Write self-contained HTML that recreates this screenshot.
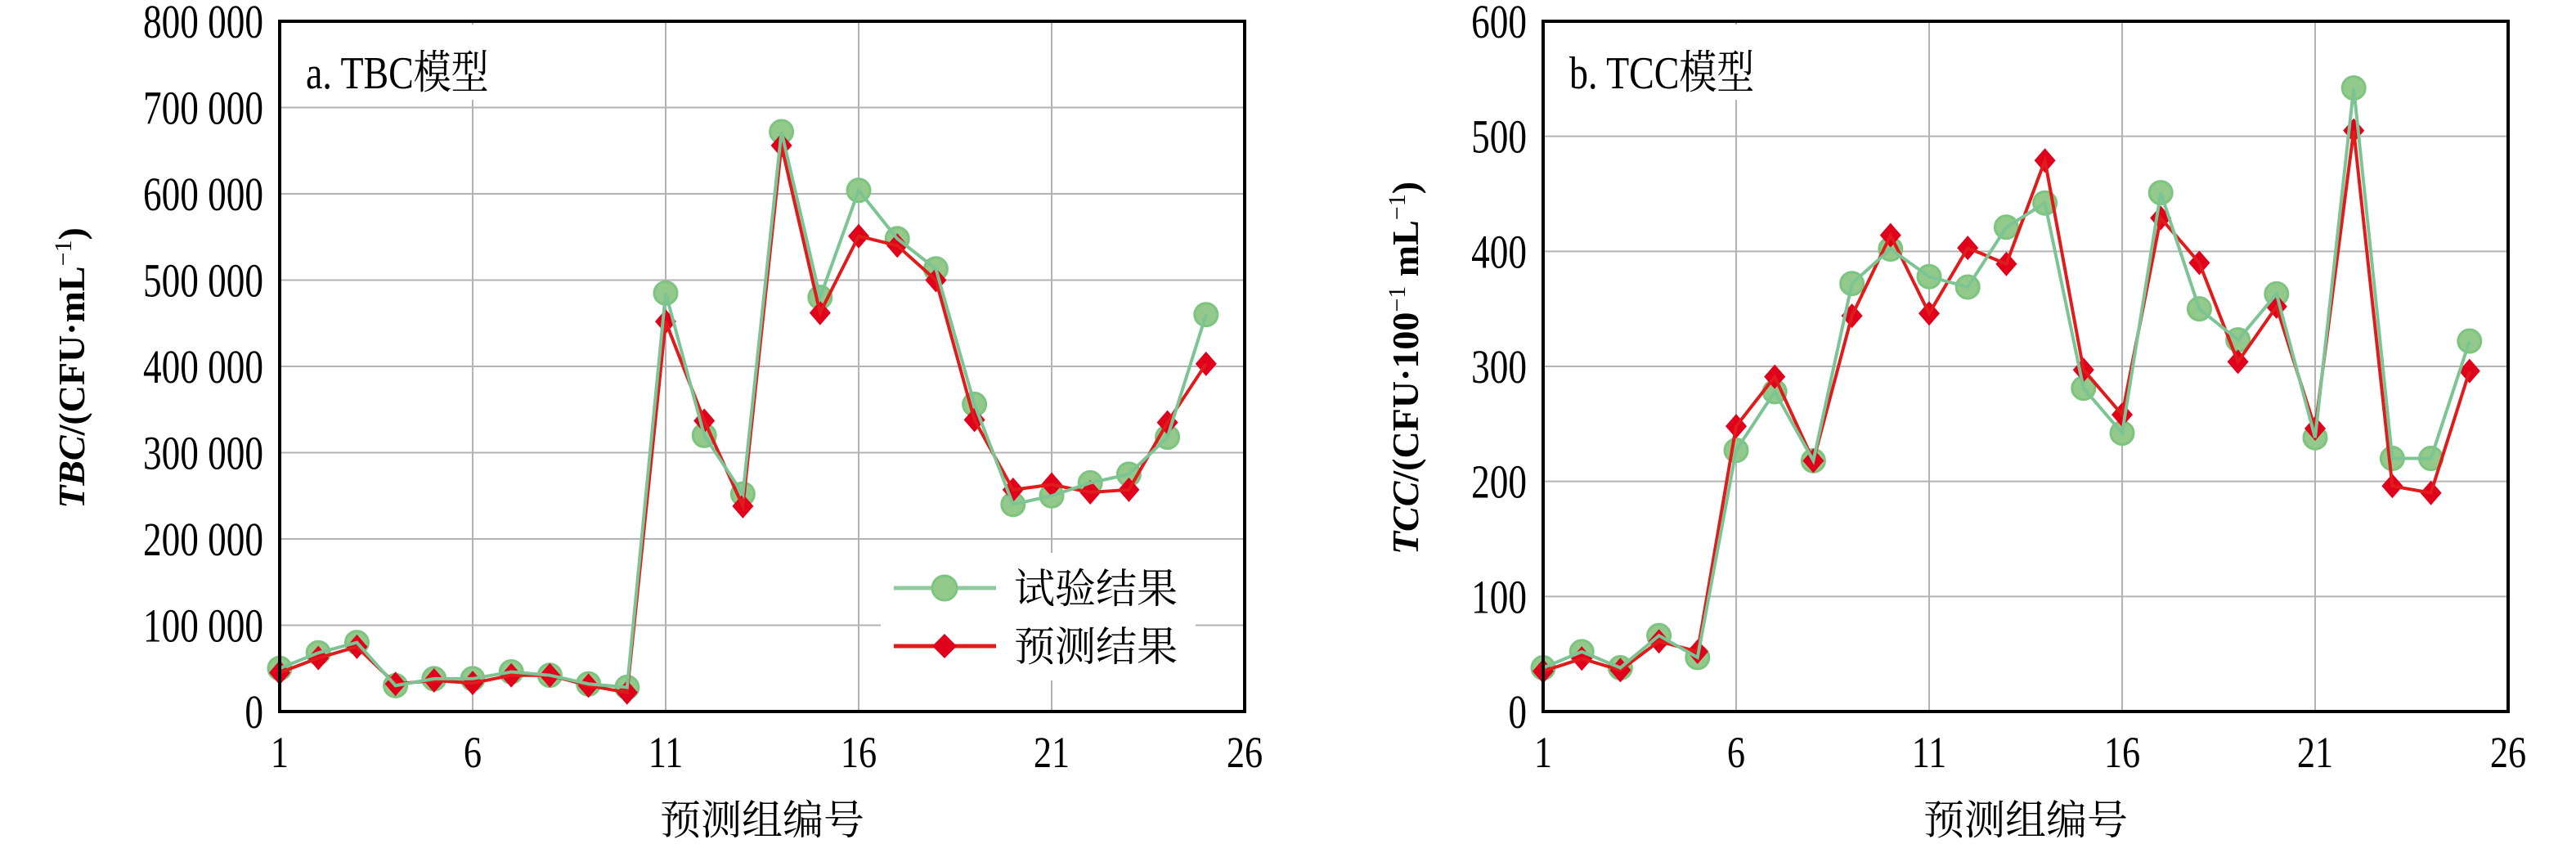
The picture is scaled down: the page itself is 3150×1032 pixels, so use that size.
<!DOCTYPE html>
<html><head><meta charset="utf-8">
<style>
html,body{margin:0;padding:0;background:#fff;}
svg{display:block;}
</style></head>
<body>
<svg id="s" width="3150" height="1032" xmlns="http://www.w3.org/2000/svg" font-family="'Liberation Serif','Noto Serif CJK SC',serif"></svg>
<script>
const S=document.getElementById('s');let h='';
const F=`font-family="'Liberation Serif','Noto Serif CJK SC',serif"`;
function t(x,y,size,anchor,c,sx,extra){return `<text ${F} transform="translate(${x},${y}) scale(${sx},1)" font-size="${size}" text-anchor="${anchor}" fill="#000" ${extra||''}>${c}</text>`;}
function panel(o){
 const L=o.L,R=L+1180,T=26,B=870;
 const X=i=>L+(i-1)*(R-L)/25, Y=v=>B-v*(B-T)/o.max;
 for(let i=6;i<26;i+=5)h+=`<line x1="${X(i)}" y1="${T}" x2="${X(i)}" y2="${B}" stroke="#b3b3b3" stroke-width="2"/>`;
 for(let v=o.step;v<o.max;v+=o.step)h+=`<line x1="${L}" y1="${Y(v)}" x2="${R}" y2="${Y(v)}" stroke="#b3b3b3" stroke-width="2"/>`;
 h+=`<rect x="${L+8}" y="${T+4}" width="${o.lw}" height="92" fill="#fff"/>`;
 h+=t(L+32,T+82,56,'start',o.title,0.82);
 if(o.legend){h+=`<rect x="1077" y="676" width="385" height="156" fill="#fff"/>`;
  h+=`<line x1="1093" y1="719" x2="1218" y2="719" stroke="#8fc9a0" stroke-width="5"/><circle cx="1155" cy="719" r="15" fill="#93c98a" stroke="#7cc47f" stroke-width="3"/>`;
  h+=t(1240,737,50,'start','试验结果',1);
  h+=`<line x1="1093" y1="790" x2="1218" y2="790" stroke="#e01b1b" stroke-width="5"/><path d="M1155 775 L1170 790 L1155 805 L1140 790Z" fill="#e0001c"/>`;
  h+=t(1240,808,50,'start','预测结果',1);}
 const gp=o.g.map((v,i)=>X(i+1)+','+Y(v)).join(' '), rp=o.r.map((v,i)=>X(i+1)+','+Y(v)).join(' ');
 let gm='',rm='';
 o.g.forEach((v,i)=>gm+=`<circle cx="${X(i+1)}" cy="${Y(v)}" r="14" fill="#93c98a" stroke="#7cc47f" stroke-width="3"/>`);
 o.r.forEach((v,i)=>{const x=X(i+1),y=Y(v);rm+=`<path d="M${x} ${y-15} L${x+13} ${y} L${x} ${y+15} L${x-13} ${y}Z" fill="#e0001c"/>`;});
 h+=gm+rm;
 h+=`<polyline points="${rp}" fill="none" stroke="#e01b1b" stroke-width="4"/>`;
 h+=`<polyline points="${gp}" fill="none" stroke="#7cc494" stroke-width="4"/>`;
 h+=`<rect x="${L}" y="${T}" width="${R-L}" height="${B-T}" fill="none" stroke="#000" stroke-width="4"/>`;
 for(let v=0;v<=o.max;v+=o.step)h+=t(L-20,Y(v)+20,58,'end',o.fmt(v),0.78);
 for(let i=1;i<=26;i+=5)h+=t(X(i),B+68,54,'middle',''+i,0.82);
 h+=t((L+R)/2,B+150,50,'middle','预测组编号',1);
 h+=`<text ${F} transform="translate(${o.yx},450) rotate(-90)" font-size="46" font-weight="bold" text-anchor="middle" fill="#000">${o.ylab}</text>`;
}
panel({L:342,max:800000,step:100000,lw:275,title:'a. TBC模型',legend:true,yx:103,
 fmt:v=>v==0?'0':(v/1000)+' 000',
 ylab:'<tspan font-style="italic">TBC</tspan>/(CFU·mL<tspan dy="-16" font-size="30" font-weight="normal">−1</tspan><tspan dy="16">)</tspan>',
 g:[50,68,80,30,38,38,46,42,32,28,485,320,252,672,480,604,548,513,356,240,250,265,275,318,460].map(v=>v*1000),
 r:[45,62,75,32,36,33,42,42,30,22,452,337,238,656,462,551,540,500,338,257,263,254,257,335,403].map(v=>v*1000)});
panel({L:1887,max:600,step:100,lw:265,title:'b. TCC模型',legend:false,yx:1734,
 fmt:v=>''+v,
 ylab:'<tspan font-style="italic">TCC</tspan>/(CFU·100<tspan dy="-16" font-size="30" font-weight="normal">−1</tspan><tspan dy="16"> mL</tspan><tspan dy="-16" font-size="30" font-weight="normal">−1</tspan><tspan dy="16">)</tspan>',
 g:[38,52,38,66,47,227,278,218,372,402,378,369,421,442,281,242,451,350,323,363,238,542,220,220,322],
 r:[35,46,36,61,52,248,291,218,344,414,346,403,389,479,297,258,429,390,304,352,246,505,196,190,296]});
S.innerHTML=h;
</script>
</body></html>
